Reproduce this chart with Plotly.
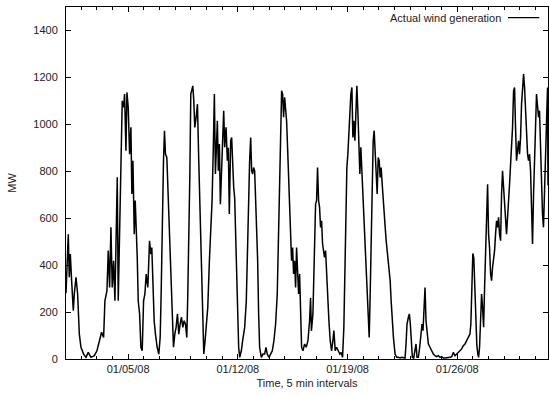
import pandas as pd
import plotly.graph_objects as go

# Hours after the left edge of the plot (start time below) and generation in MW
HOURS = [0.0, 3.5, 5.0, 6.6, 8.6, 11.2, 12.7, 15.3, 17.8, 20.4, 22.9, 27.0, 30.6, 34.1, 38.2, 43.3, 47.4, 51.0, 54.5, 57.6,
         59.6, 62.7, 64.7, 66.8, 68.8, 70.8, 72.9, 74.9, 77.0, 78.5, 80.0, 82.1, 84.1, 86.1, 88.2, 89.7, 91.8, 93.3, 95.3, 97.4,
         99.4, 100.9, 102.5, 104.5, 106.0, 107.6, 109.1, 110.6, 112.7, 114.7, 116.7, 118.8, 120.8, 122.8, 125.3, 127.9, 129.9, 131.4, 133.0, 135.0,
         137.0, 139.6, 142.1, 144.2, 145.7, 147.2, 149.3, 150.8, 152.3, 154.4, 156.4, 158.5, 160.5, 162.5, 164.6, 166.6, 168.6, 170.7, 172.7, 174.8,
         176.8, 178.9, 180.9, 182.9, 185.0, 186.5, 188.0, 189.6, 191.1, 192.6, 194.2, 195.7, 197.2, 199.3, 201.3, 203.3, 205.4, 207.4, 209.5, 211.0,
         213.0, 215.0, 217.1, 219.6, 222.1, 223.7, 225.7, 227.2, 228.8, 230.3, 231.8, 233.3, 234.9, 236.4, 237.9, 240.0, 241.5, 243.0, 245.1, 247.1,
         248.6, 250.1, 252.2, 253.7, 255.2, 256.8, 258.3, 259.8, 261.4, 262.9, 264.4, 266.0, 268.5, 270.5, 273.6, 276.1, 278.2, 279.7, 281.2, 282.8,
         284.3, 285.8, 287.3, 288.9, 290.4, 291.9, 293.5, 295.0, 296.5, 299.1, 301.6, 304.2, 306.2, 308.2, 310.8, 313.3, 315.9, 318.4, 321.0, 323.5,
         325.6, 327.1, 328.6, 330.2, 331.7, 333.2, 334.8, 336.3, 337.8, 339.3, 340.9, 342.4, 343.9, 345.4, 347.0, 348.5, 350.0, 351.6, 353.1, 354.6,
         356.2, 357.7, 359.2, 360.8, 362.8, 365.4, 367.9, 370.5, 373.0, 374.5, 375.8, 378.1, 380.1, 382.2, 383.7, 385.2, 386.8, 388.3, 389.8, 391.4,
         392.9, 394.4, 395.9, 397.5, 399.0, 400.5, 402.6, 404.6, 406.7, 408.7, 410.2, 412.3, 414.3, 416.9, 419.4, 421.4, 423.5, 425.5, 427.0, 428.6,
         430.1, 431.6, 433.1, 434.7, 436.2, 437.8, 439.3, 440.8, 442.4, 443.9, 445.4, 446.9, 448.5, 450.0, 451.5, 453.1, 454.6, 456.1, 458.2, 460.2,
         462.2, 464.3, 465.8, 467.3, 468.9, 470.4, 471.9, 473.5, 475.0, 476.5, 478.1, 479.6, 481.1, 482.6, 484.2, 485.7, 487.2, 488.8, 490.3, 491.8,
         493.3, 494.9, 496.4, 497.9, 499.9, 501.4, 503.9, 506.4, 509.0, 511.5, 514.1, 516.6, 519.2, 520.7, 522.2, 524.3, 525.8, 527.3, 528.9, 530.4,
         532.4, 534.5, 536.0, 537.5, 539.6, 541.6, 543.6, 545.2, 546.7, 548.2, 549.8, 551.3, 552.8, 554.9, 557.4, 560.0, 562.5, 565.1, 567.6, 570.2,
         572.7, 575.2, 577.8, 580.4, 582.9, 585.5, 588.0, 590.6, 593.1, 595.7, 598.2, 600.8, 603.3, 605.9, 608.4, 611.0, 613.5, 616.1, 618.6, 620.0,
         621.5, 623.0, 624.5, 626.0, 627.6, 629.1, 630.7, 631.8, 633.3, 634.9, 636.4, 637.9, 639.5, 641.0, 642.5, 644.0, 645.6, 647.1, 648.6, 650.2,
         651.7, 653.2, 654.8, 656.3, 657.8, 659.3, 660.9, 662.4, 663.9, 665.5, 667.0, 668.5, 670.1, 671.6, 673.1, 674.6, 676.2, 677.7, 679.2, 680.8,
         682.3, 683.8, 685.4, 686.9, 688.4, 689.9, 691.5, 693.0, 694.5, 696.1, 697.6, 699.1, 700.7, 702.2, 703.7, 705.2, 706.8, 708.3, 709.8, 711.4,
         712.9, 714.4, 716.0, 717.5, 719.0, 720.5, 722.1, 723.6, 725.1, 726.7, 728.2, 729.7, 731.2, 732.8, 734.3, 735.8, 737.4, 738.1]

MW = [280, 532, 348, 447, 334, 206, 277, 348, 277, 106, 50, 21, 7, 28, 7, 14, 35, 78, 114, 92,
      248, 291, 462, 305, 561, 305, 419, 248, 575, 774, 248, 604, 845, 1100, 1072, 1129, 888, 1136, 1072, 873,
      987, 703, 845, 532, 675, 575, 433, 248, 192, 50, 35, 248, 277, 362, 305, 504, 447, 475, 277, 163,
      106, 50, 21, 92, 277, 561, 845, 973, 873, 859, 703, 532, 348, 163, 50, 106, 135, 192, 106, 149,
      178, 135, 163, 149, 92, 277, 475, 774, 1129, 1143, 1164, 1100, 987, 1030, 1086, 845, 632, 348, 135, 21,
      78, 163, 220, 419, 604, 675, 916, 1129, 788, 944, 1015, 802, 916, 660, 774, 916, 1058, 902, 987, 845,
      900, 618, 930, 944, 816, 731, 687, 532, 348, 163, 50, 7, 35, 78, 135, 248, 490, 731, 845, 944,
      802, 788, 816, 802, 675, 618, 419, 192, 50, 7, 21, 21, 50, 21, 7, 21, 35, 78, 149, 277,
      561, 845, 1058, 1143, 1129, 1030, 1115, 1058, 1015, 902, 774, 632, 504, 419, 475, 362, 419, 305, 475, 362,
      277, 362, 206, 50, 35, 64, 50, 78, 163, 260, 120, 192, 419, 660, 675, 816, 675, 646, 561, 589,
      490, 462, 433, 462, 362, 248, 163, 78, 35, 78, 121, 35, 50, 35, 21, 28, 7, 135, 419, 675,
      816, 873, 987, 1044, 1129, 1157, 944, 1015, 930, 1086, 1164, 1058, 916, 788, 902, 802, 745, 632, 504, 362,
      248, 92, 277, 561, 802, 930, 973, 873, 774, 703, 859, 845, 774, 816, 745, 675, 589, 561, 504, 462,
      419, 405, 334, 248, 149, 92, 21, 7, 7, 4, 7, 7, 4, 64, 149, 178, 192, 149, 64, 7,
      4, 35, 64, 7, 7, 50, 92, 149, 121, 220, 305, 163, 106, 64, 50, 35, 21, 14, 10, 14,
      7, 10, 4, 4, 4, 4, 7, 10, 28, 14, 21, 28, 35, 43, 57, 64, 78, 92, 106, 150,
      380, 450, 430, 300, 160, 60, 20, 7, 50, 163, 277, 220, 135, 305, 475, 632, 745, 532, 475, 362,
      334, 390, 419, 462, 532, 589, 561, 604, 532, 504, 703, 802, 731, 660, 561, 532, 604, 703, 745, 830,
      902, 987, 1143, 1157, 987, 845, 888, 930, 873, 944, 1086, 1172, 1214, 1157, 1058, 973, 873, 845, 873, 802,
      604, 490, 703, 916, 987, 1129, 1058, 1030, 1058, 916, 703, 618, 561, 717, 916, 1100, 1157, 740]

START = "2008-01-01 00:52"
SPAN_HOURS = 738.1
SERIES_NAME = "Actual wind generation"
X_TITLE = "Time, 5 min intervals"
Y_TITLE = "MW"

t0 = pd.Timestamp(START)
times = t0 + pd.to_timedelta(HOURS, unit="h")
t_end = t0 + pd.to_timedelta(SPAN_HOURS, unit="h")

FONT = "Liberation Sans, Arial, Helvetica, sans-serif"
FS = 11

fig = go.Figure()
fig.add_trace(go.Scatter(x=times, y=MW, mode="lines", name=SERIES_NAME,
                         line=dict(color="black", width=1.5), showlegend=False))

axis_common = dict(showline=True, linecolor="black", linewidth=1, mirror="allticks",
                   ticks="inside", ticklen=5, tickcolor="black", tickwidth=1,
                   showgrid=False, zeroline=False,
                   tickfont=dict(family=FONT, size=FS, color="#222"))

fig.update_xaxes(type="date", range=[t0, t_end], tickformat="%m/%d/%y",
                 tick0="2008-01-05", dtick=7 * 86400000,
                 minor=dict(ticks="inside", ticklen=3, dtick=86400000, tick0="2008-01-01", tickcolor="black"),
                 title=dict(text=X_TITLE, font=dict(family=FONT, size=FS, color="#222"), standoff=5),
                 **axis_common)
fig.update_yaxes(range=[0, 1500], dtick=200, tick0=0, ticklabelstandoff=5,
                 title=dict(text=Y_TITLE, font=dict(family=FONT, size=FS, color="#222"), standoff=14),
                 **axis_common)

# gnuplot-style key: label on the left, line sample on the right
fig.add_annotation(xref="paper", yref="paper", x=0.907, y=0.97, xanchor="right", yanchor="middle",
                   text=SERIES_NAME, showarrow=False, font=dict(family=FONT, size=FS, color="#222"))
fig.add_shape(type="line", xref="paper", yref="paper", x0=0.917, x1=0.982, y0=0.97, y1=0.97,
              line=dict(color="black", width=1.2))

fig.update_layout(width=550, height=395, margin=dict(l=66, r=2, t=7, b=36),
                  paper_bgcolor="white", plot_bgcolor="white",
                  font=dict(family=FONT, size=FS, color="#222"))

fig.write_html("out.html")
